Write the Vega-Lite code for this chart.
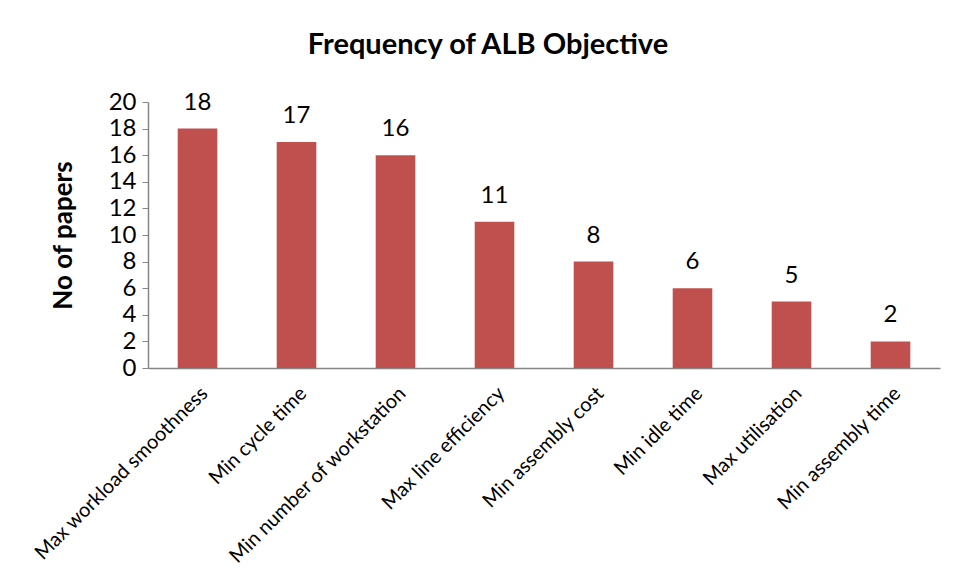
{
  "$schema": "https://vega.github.io/schema/vega-lite/v6.json",
  "width": 792,
  "height": 266,
  "autosize": {"type": "none"},
  "padding": {"left": 148, "top": 102, "right": 17, "bottom": 213},
  "background": "white",
  "title": {
    "text": "Frequency of ALB Objective",
    "font": "Lato",
    "fontSize": 29,
    "fontWeight": "bold",
    "color": "black",
    "anchor": "middle",
    "dx": -56,
    "offset": 30
  },
  "data": {
    "values": [
      {"objective": "Max workload smoothness", "papers": 18},
      {"objective": "Min cycle time", "papers": 17},
      {"objective": "Min number of workstation", "papers": 16},
      {"objective": "Max line efficiency", "papers": 11},
      {"objective": "Min assembly cost", "papers": 8},
      {"objective": "Min idle time", "papers": 6},
      {"objective": "Max utilisation", "papers": 5},
      {"objective": "Min assembly time", "papers": 2}
    ]
  },
  "encoding": {
    "x": {
      "field": "objective",
      "type": "nominal",
      "sort": null,
      "scale": {"paddingInner": 0.6, "paddingOuter": 0.3},
      "axis": {
        "title": null,
        "labelAngle": -45,
        "labelFont": "Lato",
        "labelFontSize": 20,
        "labelColor": "black",
        "labelPadding": 15,
        "labelLimit": 400,
        "ticks": false,
        "domainColor": "#868686",
        "domainWidth": 1.5
      }
    },
    "y": {
      "field": "papers",
      "type": "quantitative",
      "scale": {"domain": [0, 20]},
      "axis": {
        "title": "No of papers",
        "titleFont": "Lato",
        "titleFontSize": 26,
        "titleFontWeight": "bold",
        "titleColor": "black",
        "titlePadding": 32,
        "values": [0, 2, 4, 6, 8, 10, 12, 14, 16, 18, 20],
        "labelFont": "Lato",
        "labelFontSize": 24,
        "labelColor": "black",
        "labelPadding": 6,
        "tickSize": 6,
        "tickColor": "#868686",
        "domainColor": "#868686",
        "domainWidth": 1.5,
        "grid": false
      }
    }
  },
  "layer": [
    {"mark": {"type": "bar", "color": "#C0504D"}},
    {
      "mark": {"type": "text", "font": "Lato", "fontSize": 24, "color": "black", "baseline": "alphabetic", "dy": -19},
      "encoding": {"text": {"field": "papers", "type": "quantitative"}}
    }
  ],
  "config": {"view": {"stroke": null}}
}
